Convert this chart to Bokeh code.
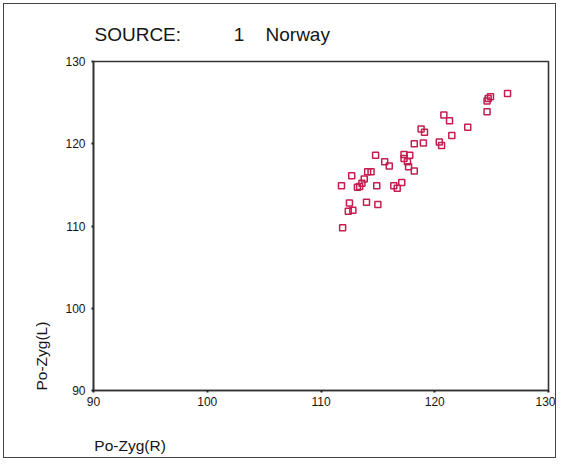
from bokeh.plotting import figure
from bokeh.models import Range1d, FixedTicker
from bokeh.embed import file_html
from bokeh.resources import INLINE

# Data
po_zyg_r = [126.4, 124.9, 124.7, 124.6, 124.6, 120.8, 121.3, 122.9, 118.8, 119.1,
            121.5, 118.2, 119.0, 120.4, 120.6, 114.8, 117.3, 117.8, 117.3, 117.6,
            115.6, 116.0, 117.7, 118.2, 114.1, 114.4, 112.7, 113.8, 113.6, 113.2,
            113.4, 111.8, 114.9, 116.4, 117.1, 116.7, 112.5, 114.0, 115.0, 112.4,
            112.8, 111.9]
po_zyg_l = [126.1, 125.7, 125.5, 125.2, 123.9, 123.5, 122.8, 122.0, 121.8, 121.4,
            121.0, 120.0, 120.1, 120.2, 119.8, 118.6, 118.7, 118.6, 118.2, 117.8,
            117.8, 117.3, 117.2, 116.7, 116.6, 116.6, 116.1, 115.7, 115.2, 114.7,
            114.8, 114.9, 114.9, 114.9, 115.3, 114.6, 112.8, 112.9, 112.6, 111.8,
            111.9, 109.8]
x_ticks = [90, 100, 110, 120, 130]
y_ticks = [90, 100, 110, 120, 130]
title_prefix = "SOURCE:"
source_id = "1"
source_name = "Norway"
x_label = "Po-Zyg(R)"
y_label = "Po-Zyg(L)"

FONT = "Liberation Sans"
TXT = "#151515"
NB = "\u00a0"

p = figure(width=553, height=455, output_backend="svg", toolbar_location=None,
           x_range=Range1d(90, 130), y_range=Range1d(90, 130),
           min_border_left=89, min_border_right=9, min_border_top=56,
           min_border_bottom=69)
p.styles = {"border": "1px solid #444", "margin-left": "3px", "margin-top": "3px"}
p.background_fill_color = "white"
p.border_fill_color = "white"
p.outline_line_color = "#333333"
p.outline_line_width = 1.6
p.xgrid.visible = False
p.ygrid.visible = False

p.title.text = title_prefix + NB * 10 + source_id + NB * 4 + source_name
p.title.align = "left"
p.title.offset = 1
p.title.standoff = 34
p.title.text_font = FONT
p.title.text_font_size = "19px"
p.title.text_font_style = "normal"
p.title.text_color = TXT

for ax in (p.xaxis[0], p.yaxis[0]):
    ax.axis_line_color = "#333333"
    ax.axis_line_width = 1.6
    ax.major_tick_in = 0
    ax.major_tick_out = 2
    ax.major_tick_line_width = 2
    ax.major_tick_line_color = "#222222"
    ax.minor_tick_line_color = None
    ax.major_label_text_font = FONT
    ax.major_label_text_font_size = "12px"
    ax.major_label_text_color = TXT
    ax.axis_label_text_font = FONT
    ax.axis_label_text_font_size = "15.5px"
    ax.axis_label_text_font_style = "normal"
    ax.axis_label_text_color = TXT
    ax.axis_label_align = "start"
p.xaxis[0].ticker = FixedTicker(ticks=x_ticks)
p.yaxis[0].ticker = FixedTicker(ticks=y_ticks)
p.xaxis[0].major_label_standoff = 4
p.yaxis[0].major_label_standoff = 6
p.xaxis[0].axis_label = NB * 17 + x_label
p.yaxis[0].axis_label = NB * 16 + y_label
p.xaxis[0].axis_label_standoff = 28
p.yaxis[0].axis_label_standoff = 12

p.scatter(po_zyg_r, po_zyg_l, marker="square", size=6, fill_color=None,
          line_color="#c41e50", line_width=1.5)

open("out.html", "w").write(file_html(p, INLINE))
